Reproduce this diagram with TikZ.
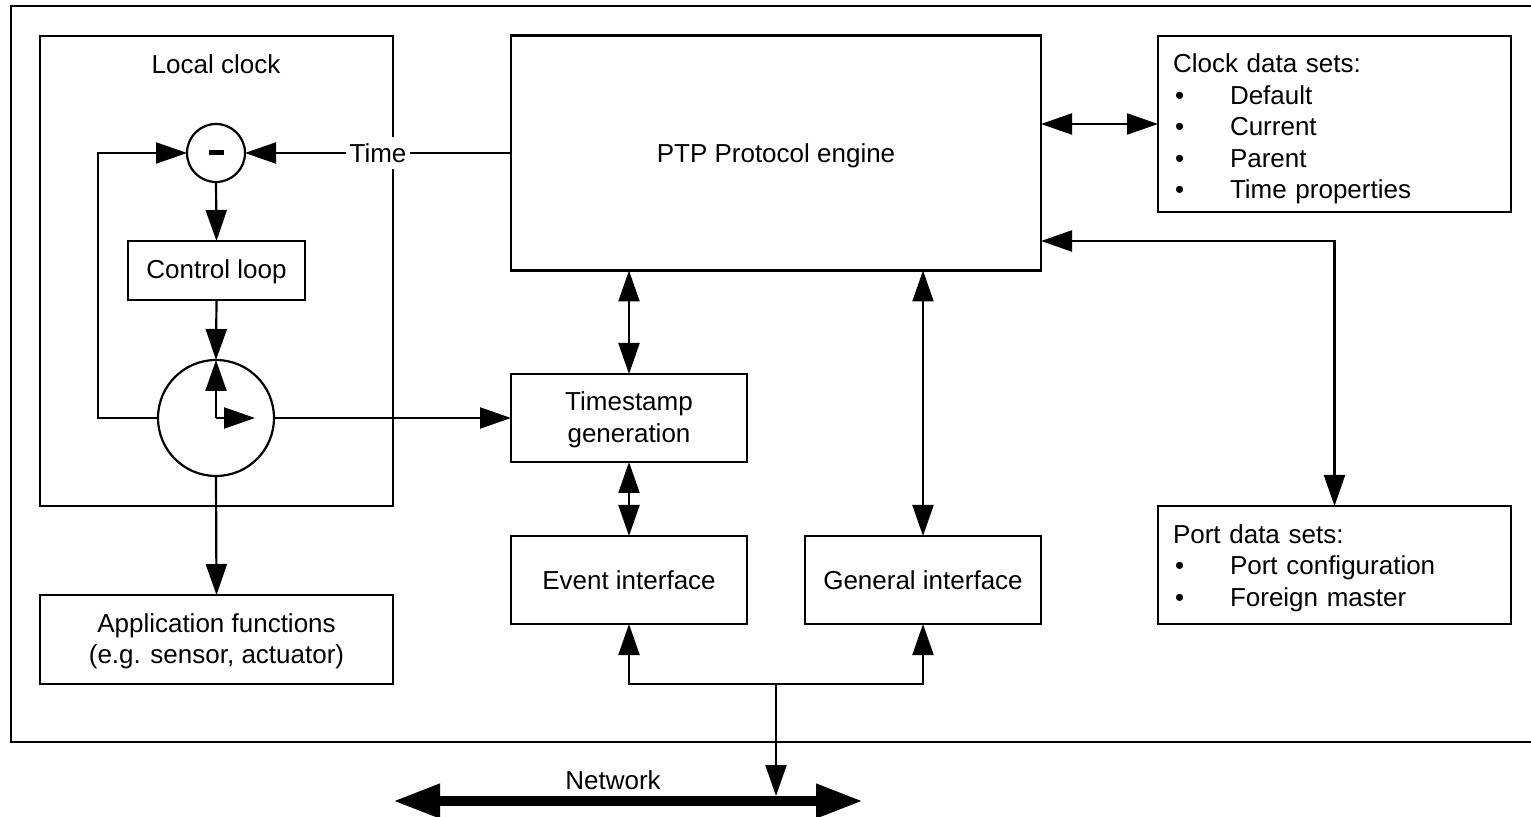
\documentclass[tikz,border=0pt]{standalone}
\usepackage{fontspec}
\setmainfont{Liberation Sans}
\usetikzlibrary{arrows.meta}

\newcommand{\bulletitem}[1]{\makebox[28.5pt][l]{\hspace{1pt}•}#1}

\begin{document}
\begin{tikzpicture}[x=0.5pt,y=-0.5pt,
  every node/.style={font=\fontsize{13}{15.75}\selectfont, inner sep=0pt, outer sep=0pt},
  box/.style={draw, line width=1.1pt, rectangle, align=center},
  ring/.style={draw, line width=1.1pt, circle},
  dsbox/.style={draw, line width=1.1pt, rectangle, align=left, inner xsep=7.5pt,
    text width=161.5pt},
  link/.style={line width=1.1pt, -{Triangle[length=15.5pt,width=10.5pt]}},
  duplex/.style={line width=1.1pt, {Triangle[length=15.5pt,width=10.5pt]}-{Triangle[length=15.5pt,width=10.5pt]}},
  netline/.style={line width=5pt, {Triangle[length=23.5pt,width=16pt]}-{Triangle[length=23.5pt,width=16pt]}},
]
\clip (0,0) rectangle (1531,817);
\fill[white] (0,0) rectangle (1531,817);

% device frame (open to the right)
\draw[line width=1.1pt] (11,6) rectangle (1560,742);

% local clock group
\node[box, minimum width=176.5pt, minimum height=235pt] (lclock) at (216.5,271) {};
\node (lclocklabel) at (216,64) {Local clock};
\node[ring, minimum size=29pt] (minus) at (216,153) {\rule{7.5pt}{2.5pt}};
\node[box, minimum width=88.5pt, minimum height=29.5pt] (ctrl) at (216.5,270.5) {\rule{0pt}{11pt}Control loop};
\node[ring, minimum size=58pt] (clk) at (216,418) {};
\coordinate (hand) at (255,418);

\node[box, minimum width=176.5pt, minimum height=44.5pt] (app) at (216.5,639.5)
  {\rule{0pt}{11pt}Application functions\\(e.g. sensor, actuator)};

% protocol side
\node[box, minimum width=265pt, minimum height=117.5pt] (ptp) at (776,153) {\rule{0pt}{12.3pt}PTP Protocol engine};
\node[dsbox, minimum height=88pt] (cds) at (1334.5,124)
  {\rule{0pt}{14.3pt}Clock data sets:\\\bulletitem{Default}\\\bulletitem{Current}\\\bulletitem{Parent}\\\bulletitem{Time properties}};
\node[dsbox, minimum height=59pt] (pds) at (1334.5,565)
  {\rule{0pt}{12.3pt}Port data sets:\\\bulletitem{Port configuration}\\\bulletitem{Foreign master}};

\node[box, minimum width=118pt, minimum height=44pt] (ts) at (629,418) {\rule{0pt}{11pt}Timestamp\\generation};
\node[box, minimum width=118pt, minimum height=44pt] (ev) at (629,580) {Event interface};
\node[box, minimum width=118pt, minimum height=44pt] (gen) at (923,580) {General interface};

% clock loop
\draw[link] (ptp.west |- minus) -- node[fill=white, inner xsep=2pt, inner ysep=3pt] {Time} (minus.east);
\draw[link] (minus.south) -- (ctrl.north);
\draw[link] (ctrl.south) -- (clk.north);
\draw[link] (clk.center) -- (clk.north);
\draw[link] (clk.center) -- (hand);
\draw[link] (clk.west) -- ++(-60,0) |- (minus.west);
\draw[link] (clk.east) -- (ts.west);
\draw[link] (clk.south) -- (app.north);

% protocol engine links
\draw[duplex] (cds.west -| ptp.east) -- (cds.west);
\coordinate (portrow) at (0,241);
\draw[duplex] (ptp.east |- portrow) -| (pds.north);
\draw[duplex] (ts.north |- ptp.south) -- (ts.north);
\draw[duplex] (ts.south) -- (ev.north);
\draw[duplex] (gen.north |- ptp.south) -- (gen.north);

% network attachment
\coordinate (busmid) at (776,684);
\coordinate (netjoin) at (776,796);
\coordinate (netL) at (393,801);
\coordinate (netR) at (863,801);
\draw[link] (busmid) -| (ev.south);
\draw[link] (busmid) -| (gen.south);
\draw[netline] (netL) -- (netR);
\draw[link] (busmid) -- (netjoin);
\node[fill=white, inner xsep=2pt, inner ysep=2pt] (netlabel) at (613,780) {Network};
\end{tikzpicture}
\end{document}
